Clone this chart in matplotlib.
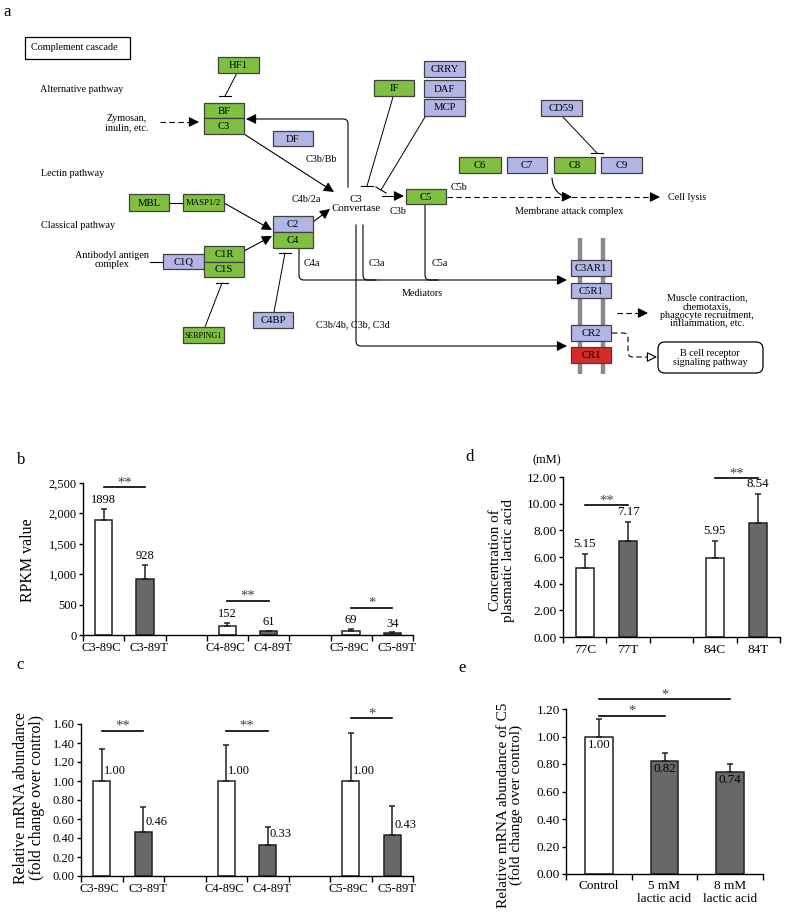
import numpy as np
import matplotlib
matplotlib.use('Agg')
import matplotlib.pyplot as plt
from matplotlib.patches import Rectangle, FancyBboxPatch

plt.rcParams['font.family'] = ['Liberation Serif', 'DejaVu Serif']

# ---------------- data ----------------
b_labels = ['C3-89C', 'C3-89T', 'C4-89C', 'C4-89T', 'C5-89C', 'C5-89T']
b_values = [1898, 928, 152, 61, 69, 34]
b_errors = [175, 223, 45, 8, 30, 10]
b_sig = ['**', '**', '*']
b_sig_y = [2430, 560, 445]

c_labels = ['C3-89C', 'C3-89T', 'C4-89C', 'C4-89T', 'C5-89C', 'C5-89T']
c_values = [1.00, 0.46, 1.00, 0.33, 1.00, 0.43]
c_errors = [0.34, 0.27, 0.38, 0.19, 0.51, 0.31]
c_sig = ['**', '**', '*']
c_sig_y = [1.53, 1.53, 1.66]

d_labels = ['77C', '77T', '84C', '84T']
d_values = [5.15, 7.17, 5.95, 8.54]
d_errors = [1.07, 1.45, 1.25, 2.20]
d_sig = ['**', '**']
d_sig_y = [9.9, 11.9]

e_labels = ['Control', '5 mM\nlactic acid', '8 mM\nlactic acid']
e_values = [1.00, 0.82, 0.74]
e_errors = [0.13, 0.06, 0.06]
e_sig = [(0, 1, '*', 1.15), (0, 2, '*', 1.27)]

W, H = 787, 917
GREEN = '#80c040'
PURPLE = '#b3b5e6'
RED = '#d42b27'
DARK = '#686868'

fig = plt.figure(figsize=(W / 100, H / 100), dpi=100)
ax0 = fig.add_axes([0, 0, 1, 1])
ax0.set_xlim(0, W)
ax0.set_ylim(H, 0)
ax0.axis('off')

FS = 7.3


def box(x0, y0, x1, y1, label, color, fs=7.7):
    ax0.add_patch(Rectangle((x0, y0), x1 - x0, y1 - y0, facecolor=color,
                            edgecolor='#404040', lw=0.9, zorder=3))
    ax0.text((x0 + x1) / 2, (y0 + y1) / 2 + 0.5, label, ha='center', va='center',
             fontsize=fs, zorder=4)


def rounded(pts, r=5):
    pts = [np.array(p, float) for p in pts]
    out = [pts[0]]
    for i in range(1, len(pts) - 1):
        a, p, b = pts[i - 1], pts[i], pts[i + 1]
        d1 = (p - a) / np.linalg.norm(p - a)
        d2 = (b - p) / np.linalg.norm(b - p)
        s, e = p - d1 * r, p + d2 * r
        t = np.linspace(0, 1, 10)[:, None]
        out.extend((1 - t) ** 2 * s + 2 * (1 - t) * t * p + t ** 2 * e)
    out.append(pts[-1])
    return np.array(out)


def head(p_from, p_to, open_head=False):
    ax0.annotate('', xy=p_to, xytext=p_from,
                 arrowprops=dict(arrowstyle='-|>,head_length=0.6,head_width=0.3',
                                 mutation_scale=10, lw=0.8, shrinkA=0, shrinkB=0,
                                 fc='white' if open_head else 'k', ec='k'),
                 zorder=2)


def arrow(pts, dashed=False, tip=True, open_head=False):
    line = rounded(pts)
    end = np.array(pts[-1], float)
    prev = np.array(pts[-2], float)
    d = (end - prev) / np.linalg.norm(end - prev)
    if tip:
        line[-1] = end - d * (8 if open_head else 4)
    ax0.plot(line[:, 0], line[:, 1], color='k', lw=0.8,
             ls=(0, (5, 3)) if dashed else '-', zorder=2)
    if tip:
        head(end - d * 9, end, open_head)


def inhibit(p0, p1, perp=False, half=6):
    ax0.plot([p0[0], p1[0]], [p0[1], p1[1]], color='k', lw=0.7, zorder=2)
    if perp:
        d = np.array(p1, float) - np.array(p0, float)
        d /= np.linalg.norm(d)
        n = np.array([-d[1], d[0]]) * half
        ax0.plot([p1[0] - n[0], p1[0] + n[0]], [p1[1] - n[1], p1[1] + n[1]],
                 color='k', lw=0.8, zorder=2)
    else:
        ax0.plot([p1[0] - half, p1[0] + half], [p1[1], p1[1]], color='k', lw=0.8, zorder=2)


# ---------------- panel a: pathway ----------------
ax0.text(7, 12, 'a', fontsize=12, ha='center', va='center')
ax0.add_patch(Rectangle((25, 37), 105, 22, facecolor='white', edgecolor='k', lw=0.9))
ax0.text(31, 48, 'Complement cascade', fontsize=FS, va='center')

# membrane
for mx in (580, 603):
    ax0.plot([mx, mx], [238, 374], color='#8a8a8a', lw=3.2, zorder=1, solid_capstyle='butt')

boxes = [
    (204, 103, 244, 118, 'BF', GREEN), (204, 118, 244, 134, 'C3', GREEN),
    (218, 57, 259, 73, 'HF1', GREEN), (273, 131, 313, 146, 'DF', PURPLE),
    (374, 80, 414, 96, 'IF', GREEN),
    (424, 61, 465, 77, 'CRRY', PURPLE), (424, 80, 465, 97, 'DAF', PURPLE),
    (424, 99, 465, 116, 'MCP', PURPLE), (541, 100, 582, 116, 'CD59', PURPLE),
    (459, 157, 501, 173, 'C6', GREEN), (507, 157, 547, 173, 'C7', PURPLE),
    (554, 157, 595, 173, 'C8', GREEN), (601, 157, 642, 173, 'C9', PURPLE),
    (129, 194, 169, 211, 'MBL', GREEN),
    (273, 216, 313, 232, 'C2', PURPLE), (273, 232, 313, 248, 'C4', GREEN),
    (163, 254, 204, 269, 'C1Q', PURPLE), (204, 246, 244, 262, 'C1R', GREEN),
    (204, 262, 244, 277, 'C1S', GREEN), (253, 312, 293, 328, 'C4BP', PURPLE),
    (406, 189, 446, 204, 'C5', GREEN),
    (571, 260, 611, 276, 'C3AR1', PURPLE), (571, 283, 611, 298, 'C5R1', PURPLE),
    (571, 325, 611, 341, 'CR2', PURPLE), (571, 347, 611, 363, 'CR1', RED),
]
for bx in boxes:
    box(*bx)
box(183, 194, 224, 211, 'MASP1/2', GREEN, fs=6.3)
box(183, 327, 224, 343, 'SERPING1', GREEN, fs=5.8)

texts = [
    (40, 89, 'Alternative pathway', 'left'),
    (127, 123, 'Zymosan,\ninulin, etc.', 'center'),
    (321, 159, 'C3b/Bb', 'center'),
    (41, 174, 'Lectin pathway', 'left'),
    (41, 226, 'Classical pathway', 'left'),
    (112, 260, 'Antibodyl antigen\ncomplex', 'center'),
    (306, 199, 'C4b/2a', 'center'),
    (398, 212, 'C3b', 'center'),
    (459, 188, 'C5b', 'center'),
    (668, 197, 'Cell lysis', 'left'),
    (569, 211, 'Membrane attack complex', 'center'),
    (312, 264, 'C4a', 'center'),
    (377, 264, 'C3a', 'center'),
    (440, 264, 'C5a', 'center'),
    (422, 293, 'Mediators', 'center'),
    (353, 325, 'C3b/4b, C3b, C3d', 'center'),
]
for tx, ty, s, ha in texts:
    ax0.text(tx, ty, s, fontsize=FS, ha=ha, va='center', linespacing=0.95)
ax0.text(356, 204, 'C3\nConvertase', fontsize=FS + 0.5, ha='center', va='center',
         linespacing=1.1)
ax0.text(707, 311, 'Muscle contraction,\nchemotaxis,\nphagocyte recruitment,\ninflammation, etc.',
         fontsize=FS, ha='center', va='center', linespacing=0.95)
ax0.add_patch(FancyBboxPatch((658, 342), 105, 31, boxstyle='round,pad=0,rounding_size=7',
                             facecolor='white', edgecolor='k', lw=0.9))
ax0.text(710, 358, 'B cell receptor\nsignaling pathway', fontsize=FS, ha='center',
         va='center', linespacing=0.95)

# connections
arrow([(160, 122), (199, 122)], dashed=True)
arrow([(244, 134), (334, 192)])
arrow([(348, 187), (348, 119), (246, 119)])
arrow([(224, 203), (272, 230)])
arrow([(244, 251), (272, 236)])
arrow([(313, 222), (330, 209)])
arrow([(382, 196), (404, 196)])
arrow([(447, 197), (660, 197)], dashed=True)
ax0.annotate('', xy=(572, 197), xytext=(552, 178),
             arrowprops=dict(arrowstyle='-|>,head_length=0.6,head_width=0.3',
                             mutation_scale=10, lw=0.8, color='k', shrinkA=0, shrinkB=0,
                             connectionstyle='arc3,rad=0.45'))
arrow([(299, 248), (299, 280), (567, 280)])
arrow([(363, 225), (363, 280), (376, 280)], tip=False)
arrow([(425, 204), (425, 280), (438, 280)], tip=False)
arrow([(356, 225), (356, 346), (567, 346)])
arrow([(617, 313), (648, 313)], dashed=True)
arrow([(612, 333), (628, 333), (628, 357), (657, 357)], dashed=True, open_head=True)
ax0.plot([150, 163], [262, 262], color='k', lw=0.8)
ax0.plot([169, 183], [203, 203], color='k', lw=0.8)

inhibit((237, 73), (225, 96))
inhibit((393, 97), (367, 186))
inhibit((425, 117), (381, 190), perp=True)
inhibit((562, 116), (597, 153))
inhibit((205, 327), (222, 283))
inhibit((274, 312), (285, 253))


# ---------------- bar panels ----------------
def px_axes(x0, y0, x1, y1):
    return fig.add_axes([x0 / W, 1 - y1 / H, (x1 - x0) / W, (y1 - y0) / H])


def bar_panel(ax, labels, values, errors, pos, nslots, colors, ymax, ystep, fmt,
              tick_fs=9, lab_fs=9.5, lab_pos=None):
    ax.bar(pos, values, width=0.42, color=colors, edgecolor='#222222', lw=1.1, zorder=2)
    ax.errorbar(pos, values, yerr=[np.zeros(len(values)), errors], fmt='none',
                ecolor='#222222', elinewidth=1.1, capsize=2.5, capthick=1.1, zorder=3)
    ax.set_xlim(-0.5, nslots - 0.5)
    ax.set_ylim(0, ymax)
    ax.set_yticks(np.arange(0, ymax + ystep / 2, ystep))
    ax.set_yticklabels([fmt(v) for v in np.arange(0, ymax + ystep / 2, ystep)], fontsize=tick_fs)
    ax.set_xticks(np.arange(-0.5, nslots, 1.0))
    ax.set_xticklabels([])
    ax.set_xticks(pos if lab_pos is None else lab_pos, minor=True)
    ax.set_xticklabels(labels, minor=True, fontsize=lab_fs)
    ax.tick_params(axis='x', which='minor', length=0, pad=5)
    ax.tick_params(axis='x', which='major', length=4, width=1.0, direction='out')
    ax.tick_params(axis='y', length=3, width=1.0, pad=1.5)
    for sp in ('top', 'right'):
        ax.spines[sp].set_visible(False)
    for sp in ('left', 'bottom'):
        ax.spines[sp].set_linewidth(1.0)
    ax.patch.set_alpha(0)


def sig(ax, x0, x1, y, s):
    ax.plot([x0, x1], [y, y], color='k', lw=1.2, clip_on=False)
    ax.annotate(s, ((x0 + x1) / 2, y), xytext=(0, -1.5), textcoords='offset points',
                ha='center', va='bottom', fontsize=10.5, color='#444444',
                annotation_clip=False)


pair_pos = [i // 2 * 3 + i % 2 for i in range(6)]
pair_lab = [p - 0.05 if i % 2 == 0 else p + 0.11 for i, p in enumerate(pair_pos)]
pair_cols = ['white' if i % 2 == 0 else DARK for i in range(6)]

# b
axb = px_axes(83, 483, 413, 635)
bar_panel(axb, b_labels, b_values, b_errors, pair_pos, 8, pair_cols, 2500, 500,
          lambda v: f'{int(v):,}', lab_fs=9, lab_pos=pair_lab)
for p, v, e in zip(pair_pos, b_values, b_errors):
    axb.annotate(str(v), (p, v + e), xytext=(0, 2), textcoords='offset points',
                 ha='center', va='bottom', fontsize=9)
for k, s in enumerate(b_sig):
    sig(axb, pair_pos[2 * k], pair_pos[2 * k + 1], b_sig_y[k], s)
ax0.text(21, 460, 'b', fontsize=12, ha='center', va='center')
ax0.text(28, 560, 'RPKM value', fontsize=11.5, rotation=90, ha='center', va='center')

# c
axc = px_axes(81, 724, 413, 876)
bar_panel(axc, c_labels, c_values, c_errors, pair_pos, 8, pair_cols, 1.6, 0.2,
          lambda v: f'{v:.2f}', lab_fs=9, lab_pos=pair_lab)
for p, v in zip(pair_pos, c_values):
    axc.annotate(f'{v:.2f}', (p, v), xytext=(1.5, 3), textcoords='offset points',
                 ha='left', va='bottom', fontsize=9)
for k, s in enumerate(c_sig):
    sig(axc, pair_pos[2 * k], pair_pos[2 * k + 1], c_sig_y[k], s)
ax0.text(20, 665, 'c', fontsize=12, ha='center', va='center')
ax0.text(29, 798, 'Relative mRNA abundance\n(fold change over control)', fontsize=11.3,
         rotation=90, ha='center', va='center', linespacing=0.95)

# d
d_pos = [i // 2 * 3 + i % 2 for i in range(4)]
d_cols = ['white' if i % 2 == 0 else DARK for i in range(4)]
axd = px_axes(563, 477, 780, 637)
bar_panel(axd, d_labels, d_values, d_errors, d_pos, 5, d_cols, 12, 2,
          lambda v: f'{v:.2f}', tick_fs=9.5, lab_fs=9.5)
for p, v, e in zip(d_pos, d_values, d_errors):
    axd.annotate(f'{v:.2f}', (p, v + e), xytext=(0, 3), textcoords='offset points',
                 ha='center', va='bottom', fontsize=9.3)
for k, s in enumerate(d_sig):
    sig(axd, d_pos[2 * k], d_pos[2 * k + 1], d_sig_y[k], s)
ax0.text(470, 457, 'd', fontsize=12, ha='center', va='center')
ax0.text(547, 460, '(mM)', fontsize=9, ha='center', va='center')
ax0.text(502, 560, 'Concentration of\nplasmatic lactic acid', fontsize=10.8,
         rotation=90, ha='center', va='center', linespacing=0.95)

# e
e_pos = list(range(3))
axe = px_axes(566, 709, 763, 874)
bar_panel(axe, e_labels, e_values, e_errors, e_pos, 3, ['white', DARK, DARK], 1.2, 0.2,
          lambda v: f'{v:.2f}', tick_fs=9.5, lab_fs=9.5)
axe.tick_params(axis='x', which='minor', pad=4)
for p, v in zip(e_pos, e_values):
    axe.annotate(f'{v:.2f}', (p, v), xytext=(0, -1.5), textcoords='offset points',
                 ha='center', va='top', fontsize=9.3, zorder=4)
for i0, i1, s, y in e_sig:
    sig(axe, e_pos[i0], e_pos[i1], y, s)
ax0.text(462, 668, 'e', fontsize=12, ha='center', va='center')
ax0.text(510, 805, 'Relative mRNA abundance of C5\n(fold change over control)', fontsize=11,
         rotation=90, ha='center', va='center', linespacing=0.95)

fig.savefig('out.png', dpi=100)
